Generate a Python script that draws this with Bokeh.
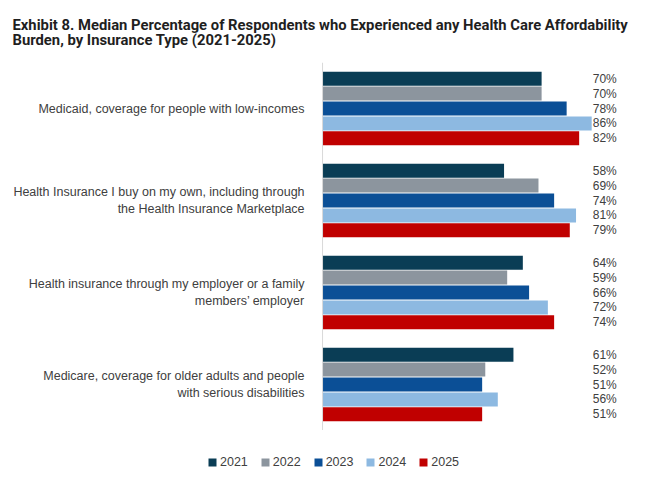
from bokeh.plotting import figure
from bokeh.layouts import column
from bokeh.models import ColumnDataSource, Range1d, FactorRange, Legend, LegendItem, Title, Span
from bokeh.core.properties import value
from bokeh.transform import dodge
from bokeh.embed import file_html
from bokeh.resources import INLINE

categories = [
    "Medicaid, coverage for people with low-incomes",
    "Health Insurance I buy on my own, including through\nthe Health Insurance Marketplace",
    "Health insurance through my employer or a family\nmembers\u2019 employer",
    "Medicare, coverage for older adults and people\nwith serious disabilities",
]
years = ["2021", "2022", "2023", "2024", "2025"]
v2021 = [70, 58, 64, 61]
v2022 = [70, 69, 59, 52]
v2023 = [78, 74, 66, 51]
v2024 = [86, 81, 72, 56]
v2025 = [82, 79, 74, 51]
series = [v2021, v2022, v2023, v2024, v2025]
colors = ["#0A3D55", "#8C959E", "#0B4F96", "#8DB9E1", "#C00000"]

TXT = "#404040"
FONT = "Liberation Sans"

# frame spans the full width; value 0 sits where the category axis is
p = figure(frame_width=635, frame_height=368, output_backend="svg", toolbar_location=None,
           y_range=FactorRange(factors=list(reversed(categories))),
           x_range=Range1d(-102.9, 100))
p.min_border_left = 0
p.min_border_right = 5
p.min_border_top = 62
p.min_border_bottom = 0
p.outline_line_color = None
p.xgrid.visible = False
p.ygrid.visible = False
p.xaxis.visible = False
p.yaxis.visible = False

p.add_layout(Span(location=0, dimension="height", line_color="#D9D9D9", line_width=1))

cat_src = ColumnDataSource(dict(cat=categories, x0=[0] * len(categories)))
p.text(x="x0", y="cat", text="cat", source=cat_src, x_offset=-18,
       text_align="right", text_baseline="middle", text_font_size="12.5px",
       text_color=TXT, text_font=value(FONT), text_line_height=1.25)

lg = figure(width=640, height=40, output_backend="svg", toolbar_location=None,
            x_range=Range1d(0, 100), y_range=FactorRange(factors=categories))
lg.min_border = 0
lg.outline_line_color = None
lg.xaxis.visible = False
lg.yaxis.visible = False
lg.xgrid.visible = False
lg.ygrid.visible = False

step = 0.162
items = []
for i, (yr, vals, c) in enumerate(zip(years, series, colors)):
    off = (2 - i) * step
    src = ColumnDataSource(dict(cat=categories, val=vals,
                                lab=[f"{v}%" for v in vals],
                                lx=[94] * len(vals)))
    p.hbar(y=dodge("cat", off, range=p.y_range), right="val", left=0,
           height=0.152, source=src, fill_color=c, line_color=None)
    p.text(x="lx", y=dodge("cat", off, range=p.y_range), text="lab", source=src,
           text_align="right", text_baseline="middle", text_font_size="12px",
           text_color=TXT, text_font=value(FONT))
    r = lg.hbar(y="cat", right="val", left=0, height=0.5, source=src,
                fill_color=c, line_color=None, visible=False)
    items.append(LegendItem(label=yr, renderers=[r]))

legend = Legend(items=items, orientation="horizontal", location=(207, 1),
                glyph_width=10, glyph_height=10, label_text_font_size="12.5px",
                label_text_color=TXT, label_text_font=FONT, spacing=12,
                label_standoff=3, border_line_color=None, background_fill_alpha=0,
                padding=0, margin=0, label_height=12, inactive_fill_alpha=0)
lg.add_layout(legend, "center")

t1 = Title(text="Exhibit 8. Median Percentage of Respondents who Experienced any Health Care Affordability\nBurden, by Insurance Type (2021-2025)",
           text_font="Roboto", text_font_size="14.8px", text_font_style="bold",
           text_color="#1F1F1F", offset=12, standoff=27, text_line_height=0.85)
p.add_layout(t1, "above")

layout = column(p, lg, spacing=0)
open("out.html", "w").write(file_html(layout, INLINE))
